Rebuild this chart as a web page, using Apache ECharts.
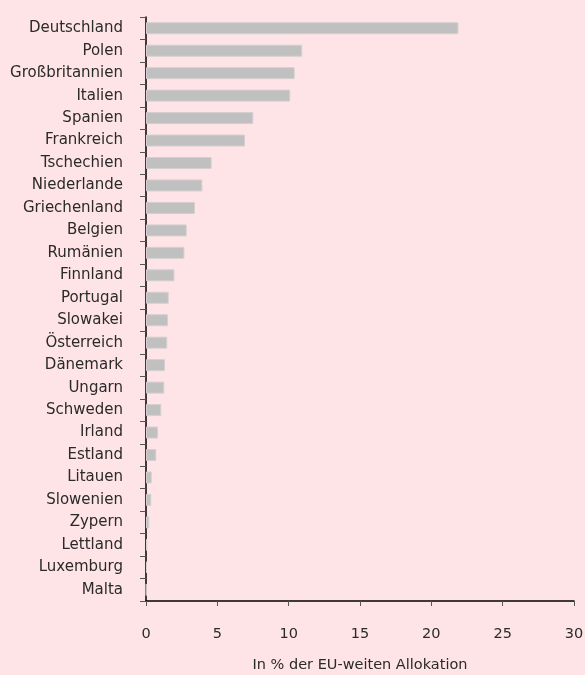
<!DOCTYPE html>
<html>
<head>
<meta charset="utf-8">
<title>EU-weite Allokation</title>
<script src="https://cdn.jsdelivr.net/npm/echarts@6/dist/echarts.min.js"></script>
<style>
  html, body { margin: 0; padding: 0; background: #fee4e6; }
</style>
</head>
<body>
<div id="main" style="width:585px;height:675px;"></div>
<script type="text/javascript">
    // Länder (oben nach unten) und Anteil in %
    var countries = ['Deutschland', 'Polen', 'Großbritannien', 'Italien', 'Spanien', 'Frankreich',
        'Tschechien', 'Niederlande', 'Griechenland', 'Belgien', 'Rumänien', 'Finnland', 'Portugal',
        'Slowakei', 'Österreich', 'Dänemark', 'Ungarn', 'Schweden', 'Irland', 'Estland', 'Litauen',
        'Slowenien', 'Zypern', 'Lettland', 'Luxemburg', 'Malta'];
    var shares = [21.9, 10.95, 10.42, 10.11, 7.52, 6.94,
        4.6, 3.95, 3.43, 2.85, 2.69, 1.99, 1.59,
        1.54, 1.49, 1.33, 1.28, 1.07, 0.84, 0.72, 0.4,
        0.37, 0.23, 0.09, 0.07, 0.03];
    var xTicks = [0, 5, 10, 15, 20, 25, 30];

    var myChart = echarts.init(document.getElementById('main'));
    var font = '"DejaVu Sans", sans-serif';

    var option = {
        backgroundColor: '#fee4e6',
        animation: false,
        grid: { left: 146, right: 11, top: 17, bottom: 74, outerBoundsMode: 'none', containLabel: false },
        xAxis: {
            type: 'value',
            min: xTicks[0],
            max: xTicks[xTicks.length - 1],
            interval: 5,
            name: 'In % der EU-weiten Allokation',
            nameLocation: 'middle',
            nameGap: 57,
            nameTextStyle: { color: '#2a2a2a', fontSize: 14.5, fontFamily: font },
            axisLine: { show: true, lineStyle: { color: '#000', width: 1.5 } },
            axisTick: { show: true, length: 5, lineStyle: { color: '#555' } },
            axisLabel: { color: '#2a2a2a', fontSize: 14.5, fontFamily: font, margin: 26 },
            splitLine: { show: false }
        },
        yAxis: {
            type: 'category',
            inverse: true,
            data: countries,
            axisLine: { show: true, lineStyle: { color: '#000', width: 1.5 } },
            axisTick: { show: true, length: 6, lineStyle: { color: '#555' } },
            axisLabel: { color: '#2a2a2a', fontSize: 15, fontFamily: font, margin: 23 }
        },
        series: [{
            type: 'bar',
            data: shares,
            barWidth: 12,
            itemStyle: { color: '#c0c0c0', borderColor: '#d4cfd0', borderWidth: 1 }
        }]
    };

    myChart.setOption(option);
</script>
</body>
</html>
